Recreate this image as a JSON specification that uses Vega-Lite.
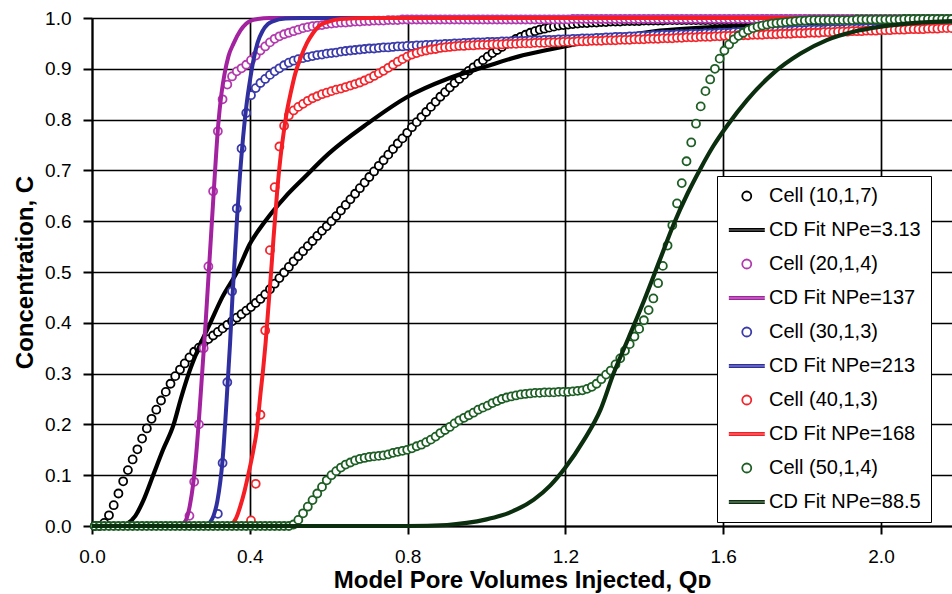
{
"$schema": "https://vega.github.io/schema/vega-lite/v6.json",
"width": 860, "height": 508,
"autosize": {"type": "none"},
"padding": {"left": 92, "top": 18, "right": 0, "bottom": 68},
"background": "white",
"config": {"view": {"stroke": null}, "font": "Liberation Sans"},
"datasets": {
"c10": [{"x":0.007,"y":0},{"x":0.019,"y":0},{"x":0.031,"y":0.006},{"x":0.043,"y":0.021},{"x":0.055,"y":0.041},{"x":0.067,"y":0.064},{"x":0.079,"y":0.088},{"x":0.091,"y":0.11},{"x":0.103,"y":0.131},{"x":0.115,"y":0.151},{"x":0.127,"y":0.172},{"x":0.139,"y":0.192},{"x":0.151,"y":0.211},{"x":0.163,"y":0.229},{"x":0.175,"y":0.247},{"x":0.187,"y":0.264},{"x":0.199,"y":0.28},{"x":0.211,"y":0.295},{"x":0.223,"y":0.308},{"x":0.235,"y":0.32},{"x":0.247,"y":0.332},{"x":0.259,"y":0.343},{"x":0.271,"y":0.351},{"x":0.283,"y":0.36},{"x":0.295,"y":0.368},{"x":0.307,"y":0.375},{"x":0.319,"y":0.382},{"x":0.331,"y":0.389},{"x":0.343,"y":0.396},{"x":0.355,"y":0.403},{"x":0.367,"y":0.41},{"x":0.379,"y":0.417},{"x":0.391,"y":0.424},{"x":0.403,"y":0.431},{"x":0.415,"y":0.439},{"x":0.427,"y":0.447},{"x":0.439,"y":0.456},{"x":0.451,"y":0.466},{"x":0.463,"y":0.477},{"x":0.475,"y":0.488},{"x":0.487,"y":0.499},{"x":0.499,"y":0.51},{"x":0.511,"y":0.521},{"x":0.523,"y":0.531},{"x":0.535,"y":0.541},{"x":0.547,"y":0.551},{"x":0.559,"y":0.561},{"x":0.571,"y":0.571},{"x":0.583,"y":0.581},{"x":0.595,"y":0.59},{"x":0.607,"y":0.6},{"x":0.619,"y":0.61},{"x":0.631,"y":0.621},{"x":0.643,"y":0.632},{"x":0.655,"y":0.643},{"x":0.667,"y":0.654},{"x":0.679,"y":0.665},{"x":0.691,"y":0.676},{"x":0.703,"y":0.687},{"x":0.715,"y":0.698},{"x":0.727,"y":0.709},{"x":0.739,"y":0.72},{"x":0.751,"y":0.731},{"x":0.763,"y":0.742},{"x":0.775,"y":0.753},{"x":0.787,"y":0.763},{"x":0.799,"y":0.774},{"x":0.811,"y":0.785},{"x":0.823,"y":0.795},{"x":0.835,"y":0.805},{"x":0.847,"y":0.815},{"x":0.859,"y":0.825},{"x":0.871,"y":0.835},{"x":0.883,"y":0.845},{"x":0.895,"y":0.854},{"x":0.907,"y":0.863},{"x":0.919,"y":0.872},{"x":0.931,"y":0.88},{"x":0.943,"y":0.888},{"x":0.955,"y":0.896},{"x":0.967,"y":0.903},{"x":0.979,"y":0.91},{"x":0.991,"y":0.917},{"x":1.003,"y":0.924},{"x":1.015,"y":0.931},{"x":1.027,"y":0.937},{"x":1.039,"y":0.943},{"x":1.051,"y":0.949},{"x":1.063,"y":0.954},{"x":1.075,"y":0.959},{"x":1.087,"y":0.963},{"x":1.099,"y":0.967},{"x":1.111,"y":0.971},{"x":1.123,"y":0.974},{"x":1.135,"y":0.977},{"x":1.147,"y":0.979},{"x":1.159,"y":0.981},{"x":1.171,"y":0.983},{"x":1.183,"y":0.985},{"x":1.195,"y":0.986},{"x":1.207,"y":0.987},{"x":1.219,"y":0.988},{"x":1.231,"y":0.989},{"x":1.243,"y":0.99},{"x":1.255,"y":0.99},{"x":1.267,"y":0.991},{"x":1.279,"y":0.991},{"x":1.291,"y":0.992},{"x":1.303,"y":0.992},{"x":1.315,"y":0.993},{"x":1.327,"y":0.993},{"x":1.339,"y":0.993},{"x":1.351,"y":0.994},{"x":1.363,"y":0.994},{"x":1.375,"y":0.994},{"x":1.387,"y":0.994},{"x":1.399,"y":0.995},{"x":1.411,"y":0.995},{"x":1.423,"y":0.995},{"x":1.435,"y":0.995},{"x":1.447,"y":0.995},{"x":1.459,"y":0.996},{"x":1.471,"y":0.996},{"x":1.483,"y":0.996},{"x":1.495,"y":0.996},{"x":1.507,"y":0.996},{"x":1.519,"y":0.996},{"x":1.531,"y":0.996},{"x":1.543,"y":0.996},{"x":1.555,"y":0.996},{"x":1.567,"y":0.996},{"x":1.579,"y":0.996},{"x":1.591,"y":0.996},{"x":1.603,"y":0.996},{"x":1.615,"y":0.996},{"x":1.627,"y":0.996},{"x":1.639,"y":0.996},{"x":1.651,"y":0.996},{"x":1.663,"y":0.996},{"x":1.675,"y":0.996},{"x":1.687,"y":0.996},{"x":1.699,"y":0.997},{"x":1.711,"y":0.997},{"x":1.723,"y":0.997},{"x":1.735,"y":0.997},{"x":1.747,"y":0.997},{"x":1.759,"y":0.997},{"x":1.771,"y":0.997},{"x":1.783,"y":0.997},{"x":1.795,"y":0.997},{"x":1.807,"y":0.997},{"x":1.819,"y":0.997},{"x":1.831,"y":0.997},{"x":1.843,"y":0.997},{"x":1.855,"y":0.997},{"x":1.867,"y":0.997},{"x":1.879,"y":0.997},{"x":1.891,"y":0.997},{"x":1.903,"y":0.997},{"x":1.915,"y":0.997},{"x":1.927,"y":0.997},{"x":1.939,"y":0.997},{"x":1.951,"y":0.997},{"x":1.963,"y":0.997},{"x":1.975,"y":0.997},{"x":1.987,"y":0.997},{"x":1.999,"y":0.997},{"x":2.011,"y":0.997},{"x":2.023,"y":0.997},{"x":2.035,"y":0.997},{"x":2.047,"y":0.997},{"x":2.059,"y":0.997},{"x":2.071,"y":0.997},{"x":2.083,"y":0.997},{"x":2.095,"y":0.997},{"x":2.107,"y":0.997},{"x":2.119,"y":0.997},{"x":2.131,"y":0.997},{"x":2.143,"y":0.997},{"x":2.155,"y":0.997},{"x":2.167,"y":0.997},{"x":2.179,"y":0.997}],
"f10": [{"x":0,"y":0},{"x":0.07,"y":0},{"x":0.09,"y":0.005},{"x":0.11,"y":0.02},{"x":0.13,"y":0.05},{"x":0.155,"y":0.1},{"x":0.18,"y":0.15},{"x":0.207,"y":0.2},{"x":0.225,"y":0.25},{"x":0.245,"y":0.3},{"x":0.27,"y":0.35},{"x":0.3,"y":0.4},{"x":0.33,"y":0.45},{"x":0.3676,"y":0.5},{"x":0.4,"y":0.555},{"x":0.439,"y":0.6},{"x":0.49,"y":0.648},{"x":0.537,"y":0.685},{"x":0.6,"y":0.733},{"x":0.7,"y":0.793},{"x":0.8,"y":0.845},{"x":0.9,"y":0.88},{"x":1.0,"y":0.905},{"x":1.08,"y":0.924},{"x":1.16,"y":0.938},{"x":1.25,"y":0.952},{"x":1.35,"y":0.965},{"x":1.44,"y":0.975},{"x":1.57,"y":0.982},{"x":1.7,"y":0.987},{"x":1.85,"y":0.991},{"x":2.0,"y":0.994},{"x":2.18,"y":0.996}],
"c20": [{"x":0.247,"y":0.02},{"x":0.259,"y":0.087},{"x":0.271,"y":0.2},{"x":0.283,"y":0.35},{"x":0.295,"y":0.511},{"x":0.307,"y":0.659},{"x":0.319,"y":0.777},{"x":0.331,"y":0.84},{"x":0.343,"y":0.869},{"x":0.355,"y":0.885},{"x":0.367,"y":0.895},{"x":0.379,"y":0.901},{"x":0.391,"y":0.908},{"x":0.403,"y":0.917},{"x":0.415,"y":0.926},{"x":0.427,"y":0.936},{"x":0.439,"y":0.944},{"x":0.451,"y":0.952},{"x":0.463,"y":0.959},{"x":0.475,"y":0.964},{"x":0.487,"y":0.968},{"x":0.499,"y":0.971},{"x":0.511,"y":0.974},{"x":0.523,"y":0.977},{"x":0.535,"y":0.98},{"x":0.547,"y":0.982},{"x":0.559,"y":0.984},{"x":0.571,"y":0.985},{"x":0.583,"y":0.986},{"x":0.595,"y":0.988},{"x":0.607,"y":0.989},{"x":0.619,"y":0.99},{"x":0.631,"y":0.991},{"x":0.643,"y":0.991},{"x":0.655,"y":0.992},{"x":0.667,"y":0.993},{"x":0.679,"y":0.993},{"x":0.691,"y":0.994},{"x":0.703,"y":0.994},{"x":0.715,"y":0.995},{"x":0.727,"y":0.995},{"x":0.739,"y":0.995},{"x":0.751,"y":0.996},{"x":0.763,"y":0.996},{"x":0.775,"y":0.996},{"x":0.787,"y":0.997},{"x":0.799,"y":0.997},{"x":0.811,"y":0.997},{"x":0.823,"y":0.997},{"x":0.835,"y":0.997},{"x":0.847,"y":0.997},{"x":0.859,"y":0.997},{"x":0.871,"y":0.997},{"x":0.883,"y":0.997},{"x":0.895,"y":0.997},{"x":0.907,"y":0.997},{"x":0.919,"y":0.997},{"x":0.931,"y":0.997},{"x":0.943,"y":0.997},{"x":0.955,"y":0.997},{"x":0.967,"y":0.997},{"x":0.979,"y":0.997},{"x":0.991,"y":0.997},{"x":1.003,"y":0.997},{"x":1.015,"y":0.997},{"x":1.027,"y":0.997},{"x":1.039,"y":0.997},{"x":1.051,"y":0.997},{"x":1.063,"y":0.997},{"x":1.075,"y":0.997},{"x":1.087,"y":0.997},{"x":1.099,"y":0.997},{"x":1.111,"y":0.997},{"x":1.123,"y":0.997},{"x":1.135,"y":0.997},{"x":1.147,"y":0.997},{"x":1.159,"y":0.997},{"x":1.171,"y":0.997},{"x":1.183,"y":0.997},{"x":1.195,"y":0.997},{"x":1.207,"y":0.997},{"x":1.219,"y":0.998},{"x":1.231,"y":0.998},{"x":1.243,"y":0.998},{"x":1.255,"y":0.998},{"x":1.267,"y":0.998},{"x":1.279,"y":0.998},{"x":1.291,"y":0.998},{"x":1.303,"y":0.998},{"x":1.315,"y":0.998},{"x":1.327,"y":0.998},{"x":1.339,"y":0.998},{"x":1.351,"y":0.998},{"x":1.363,"y":0.998},{"x":1.375,"y":0.998},{"x":1.387,"y":0.998},{"x":1.399,"y":0.998},{"x":1.411,"y":0.998},{"x":1.423,"y":0.998},{"x":1.435,"y":0.998},{"x":1.447,"y":0.998},{"x":1.459,"y":0.998},{"x":1.471,"y":0.998},{"x":1.483,"y":0.998},{"x":1.495,"y":0.998},{"x":1.507,"y":0.998},{"x":1.519,"y":0.998},{"x":1.531,"y":0.998},{"x":1.543,"y":0.998},{"x":1.555,"y":0.998},{"x":1.567,"y":0.998},{"x":1.579,"y":0.998},{"x":1.591,"y":0.998},{"x":1.603,"y":0.998},{"x":1.615,"y":0.998},{"x":1.627,"y":0.998},{"x":1.639,"y":0.998},{"x":1.651,"y":0.998},{"x":1.663,"y":0.998},{"x":1.675,"y":0.998},{"x":1.687,"y":0.998},{"x":1.699,"y":0.998},{"x":1.711,"y":0.998},{"x":1.723,"y":0.998},{"x":1.735,"y":0.998},{"x":1.747,"y":0.998},{"x":1.759,"y":0.998},{"x":1.771,"y":0.998},{"x":1.783,"y":0.998},{"x":1.795,"y":0.998},{"x":1.807,"y":0.998},{"x":1.819,"y":0.998},{"x":1.831,"y":0.998},{"x":1.843,"y":0.998},{"x":1.855,"y":0.998},{"x":1.867,"y":0.998},{"x":1.879,"y":0.998},{"x":1.891,"y":0.998},{"x":1.903,"y":0.998},{"x":1.915,"y":0.998},{"x":1.927,"y":0.998},{"x":1.939,"y":0.998},{"x":1.951,"y":0.998},{"x":1.963,"y":0.998},{"x":1.975,"y":0.998},{"x":1.987,"y":0.998},{"x":1.999,"y":0.998},{"x":2.011,"y":0.998},{"x":2.023,"y":0.998},{"x":2.035,"y":0.998},{"x":2.047,"y":0.998},{"x":2.059,"y":0.998},{"x":2.071,"y":0.998},{"x":2.083,"y":0.998},{"x":2.095,"y":0.998},{"x":2.107,"y":0.998},{"x":2.119,"y":0.998},{"x":2.131,"y":0.998},{"x":2.143,"y":0.998},{"x":2.155,"y":0.998},{"x":2.167,"y":0.998},{"x":2.179,"y":0.998}],
"f20": [{"x":0,"y":0},{"x":0.22,"y":0},{"x":0.232,"y":0.005},{"x":0.24,"y":0.015},{"x":0.248,"y":0.04},{"x":0.256,"y":0.08},{"x":0.264,"y":0.14},{"x":0.272,"y":0.22},{"x":0.28,"y":0.31},{"x":0.288,"y":0.4},{"x":0.296,"y":0.5},{"x":0.304,"y":0.6},{"x":0.312,"y":0.7},{"x":0.32,"y":0.79},{"x":0.328,"y":0.85},{"x":0.336,"y":0.89},{"x":0.346,"y":0.925},{"x":0.359,"y":0.95},{"x":0.376,"y":0.975},{"x":0.39,"y":0.988},{"x":0.401,"y":0.994},{"x":0.42,"y":0.998},{"x":0.45,"y":1},{"x":2.18,"y":1}],
"c30": [{"x":0.319,"y":0.024},{"x":0.331,"y":0.124},{"x":0.343,"y":0.283},{"x":0.355,"y":0.462},{"x":0.367,"y":0.625},{"x":0.379,"y":0.743},{"x":0.391,"y":0.813},{"x":0.403,"y":0.848},{"x":0.415,"y":0.862},{"x":0.427,"y":0.872},{"x":0.439,"y":0.88},{"x":0.451,"y":0.888},{"x":0.463,"y":0.895},{"x":0.475,"y":0.901},{"x":0.487,"y":0.907},{"x":0.499,"y":0.912},{"x":0.511,"y":0.916},{"x":0.523,"y":0.919},{"x":0.535,"y":0.921},{"x":0.547,"y":0.923},{"x":0.559,"y":0.925},{"x":0.571,"y":0.927},{"x":0.583,"y":0.928},{"x":0.595,"y":0.93},{"x":0.607,"y":0.931},{"x":0.619,"y":0.932},{"x":0.631,"y":0.934},{"x":0.643,"y":0.935},{"x":0.655,"y":0.936},{"x":0.667,"y":0.937},{"x":0.679,"y":0.938},{"x":0.691,"y":0.939},{"x":0.703,"y":0.94},{"x":0.715,"y":0.94},{"x":0.727,"y":0.941},{"x":0.739,"y":0.942},{"x":0.751,"y":0.942},{"x":0.763,"y":0.943},{"x":0.775,"y":0.944},{"x":0.787,"y":0.944},{"x":0.799,"y":0.945},{"x":0.811,"y":0.945},{"x":0.823,"y":0.946},{"x":0.835,"y":0.946},{"x":0.847,"y":0.947},{"x":0.859,"y":0.947},{"x":0.871,"y":0.948},{"x":0.883,"y":0.948},{"x":0.895,"y":0.949},{"x":0.907,"y":0.949},{"x":0.919,"y":0.95},{"x":0.931,"y":0.95},{"x":0.943,"y":0.951},{"x":0.955,"y":0.951},{"x":0.967,"y":0.952},{"x":0.979,"y":0.952},{"x":0.991,"y":0.952},{"x":1.003,"y":0.953},{"x":1.015,"y":0.953},{"x":1.027,"y":0.953},{"x":1.039,"y":0.954},{"x":1.051,"y":0.954},{"x":1.063,"y":0.954},{"x":1.075,"y":0.955},{"x":1.087,"y":0.955},{"x":1.099,"y":0.955},{"x":1.111,"y":0.956},{"x":1.123,"y":0.956},{"x":1.135,"y":0.956},{"x":1.147,"y":0.957},{"x":1.159,"y":0.957},{"x":1.171,"y":0.957},{"x":1.183,"y":0.958},{"x":1.195,"y":0.958},{"x":1.207,"y":0.958},{"x":1.219,"y":0.959},{"x":1.231,"y":0.959},{"x":1.243,"y":0.96},{"x":1.255,"y":0.96},{"x":1.267,"y":0.96},{"x":1.279,"y":0.961},{"x":1.291,"y":0.961},{"x":1.303,"y":0.962},{"x":1.315,"y":0.962},{"x":1.327,"y":0.963},{"x":1.339,"y":0.963},{"x":1.351,"y":0.963},{"x":1.363,"y":0.964},{"x":1.375,"y":0.964},{"x":1.387,"y":0.965},{"x":1.399,"y":0.965},{"x":1.411,"y":0.965},{"x":1.423,"y":0.966},{"x":1.435,"y":0.966},{"x":1.447,"y":0.967},{"x":1.459,"y":0.967},{"x":1.471,"y":0.967},{"x":1.483,"y":0.968},{"x":1.495,"y":0.968},{"x":1.507,"y":0.968},{"x":1.519,"y":0.969},{"x":1.531,"y":0.969},{"x":1.543,"y":0.969},{"x":1.555,"y":0.97},{"x":1.567,"y":0.97},{"x":1.579,"y":0.97},{"x":1.591,"y":0.971},{"x":1.603,"y":0.971},{"x":1.615,"y":0.971},{"x":1.627,"y":0.972},{"x":1.639,"y":0.972},{"x":1.651,"y":0.972},{"x":1.663,"y":0.973},{"x":1.675,"y":0.973},{"x":1.687,"y":0.973},{"x":1.699,"y":0.974},{"x":1.711,"y":0.974},{"x":1.723,"y":0.974},{"x":1.735,"y":0.975},{"x":1.747,"y":0.975},{"x":1.759,"y":0.975},{"x":1.771,"y":0.975},{"x":1.783,"y":0.976},{"x":1.795,"y":0.976},{"x":1.807,"y":0.976},{"x":1.819,"y":0.977},{"x":1.831,"y":0.977},{"x":1.843,"y":0.977},{"x":1.855,"y":0.977},{"x":1.867,"y":0.978},{"x":1.879,"y":0.978},{"x":1.891,"y":0.978},{"x":1.903,"y":0.978},{"x":1.915,"y":0.979},{"x":1.927,"y":0.979},{"x":1.939,"y":0.979},{"x":1.951,"y":0.979},{"x":1.963,"y":0.98},{"x":1.975,"y":0.98},{"x":1.987,"y":0.98},{"x":1.999,"y":0.98},{"x":2.011,"y":0.981},{"x":2.023,"y":0.981},{"x":2.035,"y":0.981},{"x":2.047,"y":0.981},{"x":2.059,"y":0.981},{"x":2.071,"y":0.982},{"x":2.083,"y":0.982},{"x":2.095,"y":0.982},{"x":2.107,"y":0.982},{"x":2.119,"y":0.983},{"x":2.131,"y":0.983},{"x":2.143,"y":0.983},{"x":2.155,"y":0.983},{"x":2.167,"y":0.983},{"x":2.179,"y":0.984}],
"f30": [{"x":0,"y":0},{"x":0.28,"y":0},{"x":0.29,"y":0.002},{"x":0.3,"y":0.008},{"x":0.308,"y":0.02},{"x":0.318,"y":0.05},{"x":0.331,"y":0.13},{"x":0.344,"y":0.283},{"x":0.35,"y":0.36},{"x":0.356,"y":0.45},{"x":0.362,"y":0.53},{"x":0.368,"y":0.61},{"x":0.375,"y":0.69},{"x":0.383,"y":0.765},{"x":0.391,"y":0.825},{"x":0.401,"y":0.88},{"x":0.41,"y":0.92},{"x":0.42,"y":0.952},{"x":0.432,"y":0.974},{"x":0.446,"y":0.988},{"x":0.46,"y":0.994},{"x":0.49,"y":0.999},{"x":0.53,"y":1},{"x":2.18,"y":1}],
"c40": [{"x":0.403,"y":0.011},{"x":0.415,"y":0.083},{"x":0.427,"y":0.219},{"x":0.439,"y":0.385},{"x":0.451,"y":0.543},{"x":0.463,"y":0.667},{"x":0.475,"y":0.747},{"x":0.487,"y":0.788},{"x":0.499,"y":0.808},{"x":0.511,"y":0.818},{"x":0.523,"y":0.825},{"x":0.535,"y":0.831},{"x":0.547,"y":0.837},{"x":0.559,"y":0.842},{"x":0.571,"y":0.846},{"x":0.583,"y":0.85},{"x":0.595,"y":0.853},{"x":0.607,"y":0.856},{"x":0.619,"y":0.859},{"x":0.631,"y":0.861},{"x":0.643,"y":0.864},{"x":0.655,"y":0.867},{"x":0.667,"y":0.87},{"x":0.679,"y":0.873},{"x":0.691,"y":0.877},{"x":0.703,"y":0.881},{"x":0.715,"y":0.886},{"x":0.727,"y":0.891},{"x":0.739,"y":0.896},{"x":0.751,"y":0.902},{"x":0.763,"y":0.908},{"x":0.775,"y":0.914},{"x":0.787,"y":0.919},{"x":0.799,"y":0.924},{"x":0.811,"y":0.928},{"x":0.823,"y":0.931},{"x":0.835,"y":0.934},{"x":0.847,"y":0.936},{"x":0.859,"y":0.938},{"x":0.871,"y":0.939},{"x":0.883,"y":0.941},{"x":0.895,"y":0.942},{"x":0.907,"y":0.943},{"x":0.919,"y":0.944},{"x":0.931,"y":0.945},{"x":0.943,"y":0.945},{"x":0.955,"y":0.946},{"x":0.967,"y":0.946},{"x":0.979,"y":0.947},{"x":0.991,"y":0.947},{"x":1.003,"y":0.947},{"x":1.015,"y":0.948},{"x":1.027,"y":0.948},{"x":1.039,"y":0.948},{"x":1.051,"y":0.949},{"x":1.063,"y":0.949},{"x":1.075,"y":0.949},{"x":1.087,"y":0.95},{"x":1.099,"y":0.95},{"x":1.111,"y":0.95},{"x":1.123,"y":0.951},{"x":1.135,"y":0.951},{"x":1.147,"y":0.951},{"x":1.159,"y":0.952},{"x":1.171,"y":0.952},{"x":1.183,"y":0.952},{"x":1.195,"y":0.953},{"x":1.207,"y":0.953},{"x":1.219,"y":0.953},{"x":1.231,"y":0.954},{"x":1.243,"y":0.954},{"x":1.255,"y":0.954},{"x":1.267,"y":0.955},{"x":1.279,"y":0.955},{"x":1.291,"y":0.955},{"x":1.303,"y":0.956},{"x":1.315,"y":0.956},{"x":1.327,"y":0.956},{"x":1.339,"y":0.957},{"x":1.351,"y":0.957},{"x":1.363,"y":0.957},{"x":1.375,"y":0.958},{"x":1.387,"y":0.958},{"x":1.399,"y":0.958},{"x":1.411,"y":0.959},{"x":1.423,"y":0.959},{"x":1.435,"y":0.959},{"x":1.447,"y":0.96},{"x":1.459,"y":0.96},{"x":1.471,"y":0.96},{"x":1.483,"y":0.961},{"x":1.495,"y":0.961},{"x":1.507,"y":0.962},{"x":1.519,"y":0.962},{"x":1.531,"y":0.962},{"x":1.543,"y":0.963},{"x":1.555,"y":0.963},{"x":1.567,"y":0.963},{"x":1.579,"y":0.964},{"x":1.591,"y":0.964},{"x":1.603,"y":0.965},{"x":1.615,"y":0.965},{"x":1.627,"y":0.965},{"x":1.639,"y":0.966},{"x":1.651,"y":0.966},{"x":1.663,"y":0.966},{"x":1.675,"y":0.967},{"x":1.687,"y":0.967},{"x":1.699,"y":0.967},{"x":1.711,"y":0.968},{"x":1.723,"y":0.968},{"x":1.735,"y":0.968},{"x":1.747,"y":0.969},{"x":1.759,"y":0.969},{"x":1.771,"y":0.969},{"x":1.783,"y":0.97},{"x":1.795,"y":0.97},{"x":1.807,"y":0.97},{"x":1.819,"y":0.971},{"x":1.831,"y":0.971},{"x":1.843,"y":0.971},{"x":1.855,"y":0.972},{"x":1.867,"y":0.972},{"x":1.879,"y":0.972},{"x":1.891,"y":0.973},{"x":1.903,"y":0.973},{"x":1.915,"y":0.973},{"x":1.927,"y":0.974},{"x":1.939,"y":0.974},{"x":1.951,"y":0.974},{"x":1.963,"y":0.975},{"x":1.975,"y":0.975},{"x":1.987,"y":0.975},{"x":1.999,"y":0.976},{"x":2.011,"y":0.976},{"x":2.023,"y":0.976},{"x":2.035,"y":0.977},{"x":2.047,"y":0.977},{"x":2.059,"y":0.977},{"x":2.071,"y":0.978},{"x":2.083,"y":0.978},{"x":2.095,"y":0.978},{"x":2.107,"y":0.978},{"x":2.119,"y":0.979},{"x":2.131,"y":0.979},{"x":2.143,"y":0.979},{"x":2.155,"y":0.98},{"x":2.167,"y":0.98},{"x":2.179,"y":0.98}],
"f40": [{"x":0,"y":0},{"x":0.34,"y":0},{"x":0.351,"y":0.002},{"x":0.365,"y":0.015},{"x":0.376,"y":0.039},{"x":0.387,"y":0.07},{"x":0.397,"y":0.104},{"x":0.408,"y":0.145},{"x":0.418,"y":0.19},{"x":0.427,"y":0.26},{"x":0.434,"y":0.31},{"x":0.44,"y":0.36},{"x":0.447,"y":0.43},{"x":0.454,"y":0.5},{"x":0.46,"y":0.565},{"x":0.469,"y":0.655},{"x":0.477,"y":0.72},{"x":0.486,"y":0.775},{"x":0.495,"y":0.82},{"x":0.503,"y":0.85},{"x":0.515,"y":0.89},{"x":0.528,"y":0.92},{"x":0.545,"y":0.951},{"x":0.56,"y":0.97},{"x":0.575,"y":0.984},{"x":0.6,"y":0.993},{"x":0.63,"y":0.998},{"x":0.7,"y":1},{"x":2.18,"y":1}],
"c50": [{"x":0.007,"y":0},{"x":0.019,"y":0},{"x":0.031,"y":0},{"x":0.043,"y":0},{"x":0.055,"y":0},{"x":0.067,"y":0},{"x":0.079,"y":0},{"x":0.091,"y":0},{"x":0.103,"y":0},{"x":0.115,"y":0},{"x":0.127,"y":0},{"x":0.139,"y":0},{"x":0.151,"y":0},{"x":0.163,"y":0},{"x":0.175,"y":0},{"x":0.187,"y":0},{"x":0.199,"y":0},{"x":0.211,"y":0},{"x":0.223,"y":0},{"x":0.235,"y":0},{"x":0.247,"y":0},{"x":0.259,"y":0},{"x":0.271,"y":0},{"x":0.283,"y":0},{"x":0.295,"y":0},{"x":0.307,"y":0},{"x":0.319,"y":0},{"x":0.331,"y":0},{"x":0.343,"y":0},{"x":0.355,"y":0},{"x":0.367,"y":0},{"x":0.379,"y":0},{"x":0.391,"y":0},{"x":0.403,"y":0},{"x":0.415,"y":0},{"x":0.427,"y":0},{"x":0.439,"y":0},{"x":0.451,"y":0},{"x":0.463,"y":0},{"x":0.475,"y":0},{"x":0.487,"y":0},{"x":0.499,"y":0},{"x":0.511,"y":0.003},{"x":0.523,"y":0.012},{"x":0.535,"y":0.025},{"x":0.547,"y":0.038},{"x":0.559,"y":0.051},{"x":0.571,"y":0.064},{"x":0.583,"y":0.077},{"x":0.595,"y":0.09},{"x":0.607,"y":0.1},{"x":0.619,"y":0.108},{"x":0.631,"y":0.115},{"x":0.643,"y":0.121},{"x":0.655,"y":0.125},{"x":0.667,"y":0.129},{"x":0.679,"y":0.132},{"x":0.691,"y":0.134},{"x":0.703,"y":0.136},{"x":0.715,"y":0.137},{"x":0.727,"y":0.138},{"x":0.739,"y":0.139},{"x":0.751,"y":0.141},{"x":0.763,"y":0.144},{"x":0.775,"y":0.146},{"x":0.787,"y":0.148},{"x":0.799,"y":0.15},{"x":0.811,"y":0.153},{"x":0.823,"y":0.157},{"x":0.835,"y":0.16},{"x":0.847,"y":0.165},{"x":0.859,"y":0.17},{"x":0.871,"y":0.176},{"x":0.883,"y":0.183},{"x":0.895,"y":0.189},{"x":0.907,"y":0.195},{"x":0.919,"y":0.202},{"x":0.931,"y":0.208},{"x":0.943,"y":0.213},{"x":0.955,"y":0.218},{"x":0.967,"y":0.223},{"x":0.979,"y":0.229},{"x":0.991,"y":0.233},{"x":1.003,"y":0.237},{"x":1.015,"y":0.242},{"x":1.027,"y":0.246},{"x":1.039,"y":0.25},{"x":1.051,"y":0.253},{"x":1.063,"y":0.255},{"x":1.075,"y":0.257},{"x":1.087,"y":0.259},{"x":1.099,"y":0.26},{"x":1.111,"y":0.261},{"x":1.123,"y":0.262},{"x":1.135,"y":0.262},{"x":1.147,"y":0.263},{"x":1.159,"y":0.263},{"x":1.171,"y":0.263},{"x":1.183,"y":0.264},{"x":1.195,"y":0.264},{"x":1.207,"y":0.264},{"x":1.219,"y":0.265},{"x":1.231,"y":0.266},{"x":1.243,"y":0.267},{"x":1.255,"y":0.27},{"x":1.267,"y":0.274},{"x":1.279,"y":0.28},{"x":1.291,"y":0.289},{"x":1.303,"y":0.298},{"x":1.315,"y":0.306},{"x":1.327,"y":0.318},{"x":1.339,"y":0.33},{"x":1.351,"y":0.345},{"x":1.363,"y":0.358},{"x":1.375,"y":0.373},{"x":1.387,"y":0.388},{"x":1.399,"y":0.405},{"x":1.411,"y":0.425},{"x":1.423,"y":0.448},{"x":1.435,"y":0.478},{"x":1.447,"y":0.512},{"x":1.459,"y":0.552},{"x":1.471,"y":0.592},{"x":1.483,"y":0.635},{"x":1.495,"y":0.675},{"x":1.507,"y":0.718},{"x":1.519,"y":0.755},{"x":1.531,"y":0.792},{"x":1.543,"y":0.826},{"x":1.555,"y":0.856},{"x":1.567,"y":0.879},{"x":1.579,"y":0.9},{"x":1.591,"y":0.92},{"x":1.603,"y":0.936},{"x":1.615,"y":0.948},{"x":1.627,"y":0.958},{"x":1.639,"y":0.965},{"x":1.651,"y":0.971},{"x":1.663,"y":0.976},{"x":1.675,"y":0.98},{"x":1.687,"y":0.983},{"x":1.699,"y":0.985},{"x":1.711,"y":0.987},{"x":1.723,"y":0.989},{"x":1.735,"y":0.99},{"x":1.747,"y":0.991},{"x":1.759,"y":0.992},{"x":1.771,"y":0.993},{"x":1.783,"y":0.994},{"x":1.795,"y":0.995},{"x":1.807,"y":0.995},{"x":1.819,"y":0.996},{"x":1.831,"y":0.996},{"x":1.843,"y":0.996},{"x":1.855,"y":0.996},{"x":1.867,"y":0.996},{"x":1.879,"y":0.996},{"x":1.891,"y":0.996},{"x":1.903,"y":0.996},{"x":1.915,"y":0.996},{"x":1.927,"y":0.996},{"x":1.939,"y":0.997},{"x":1.951,"y":0.997},{"x":1.963,"y":0.997},{"x":1.975,"y":0.997},{"x":1.987,"y":0.997},{"x":1.999,"y":0.997},{"x":2.011,"y":0.997},{"x":2.023,"y":0.997},{"x":2.035,"y":0.997},{"x":2.047,"y":0.997},{"x":2.059,"y":0.998},{"x":2.071,"y":0.998},{"x":2.083,"y":0.998},{"x":2.095,"y":0.998},{"x":2.107,"y":0.998},{"x":2.119,"y":0.998},{"x":2.131,"y":0.998},{"x":2.143,"y":0.998},{"x":2.155,"y":0.998},{"x":2.167,"y":0.998},{"x":2.179,"y":0.998}],
"f50": [{"x":0,"y":0},{"x":0.8,"y":0},{"x":0.9,"y":0.002},{"x":0.95,"y":0.006},{"x":1.0,"y":0.013},{"x":1.035,"y":0.02},{"x":1.078,"y":0.033},{"x":1.12,"y":0.052},{"x":1.162,"y":0.08},{"x":1.2,"y":0.115},{"x":1.246,"y":0.168},{"x":1.289,"y":0.229},{"x":1.322,"y":0.3},{"x":1.36,"y":0.37},{"x":1.4,"y":0.445},{"x":1.44,"y":0.525},{"x":1.475,"y":0.595},{"x":1.51,"y":0.655},{"x":1.542,"y":0.703},{"x":1.575,"y":0.748},{"x":1.61,"y":0.788},{"x":1.661,"y":0.839},{"x":1.728,"y":0.892},{"x":1.796,"y":0.93},{"x":1.864,"y":0.957},{"x":1.93,"y":0.973},{"x":2.0,"y":0.983},{"x":2.08,"y":0.99},{"x":2.18,"y":0.994}]
},
"encoding": {
  "x": {"field": "x", "type": "quantitative",
    "scale": {"domain": [0, 2.18], "nice": false, "zero": false},
    "title": "Model Pore Volumes Injected, Qᴅ",
    "axis": {"values": [0, 0.4, 0.8, 1.2, 1.6, 2.0], "format": ".1f", "grid": true, "gridColor": "#000", "gridWidth": 1.7, "gridOpacity": 1,
      "domainColor": "#000", "domainWidth": 2, "tickColor": "#000", "tickWidth": 2, "tickSize": 8, "labelFlush": false,
      "labelFont": "Liberation Sans", "labelFontSize": 19, "labelColor": "#000", "labelPadding": 13,
      "titleFont": "Liberation Sans", "titleFontSize": 24, "titleFontWeight": "bold", "titleColor": "#000", "titlePadding": 2}},
  "y": {"field": "y", "type": "quantitative",
    "scale": {"domain": [0, 1], "nice": false},
    "title": "Concentration, C",
    "axis": {"values": [0, 0.1, 0.2, 0.3, 0.4, 0.5, 0.6, 0.7, 0.8, 0.9, 1.0], "format": ".1f", "grid": true, "gridColor": "#000", "gridWidth": 1.7, "gridOpacity": 1,
      "domainColor": "#000", "domainWidth": 2, "tickColor": "#000", "tickWidth": 2, "tickSize": 9, "labelFlush": false,
      "labelFont": "Liberation Sans", "labelFontSize": 19, "labelColor": "#000", "labelPadding": 12,
      "titleFont": "Liberation Sans", "titleFontSize": 24, "titleFontWeight": "bold", "titleColor": "#000", "titlePadding": 7}}
},
"layer": [
  {"data": {"name": "c10"}, "mark": {"type": "point", "shape": "circle", "size": 64, "strokeWidth": 1.8, "filled": false, "fill": "white", "opacity": 1},
   "encoding": {"color": {"datum": "Cell (10,1,7)", "type": "nominal"}}},
  {"data": {"name": "f10"}, "mark": {"type": "line", "strokeWidth": 4.2, "interpolate": "monotone"},
   "encoding": {"color": {"datum": "CD Fit NPe=3.13", "type": "nominal"}}},
  {"data": {"name": "c20"}, "mark": {"type": "point", "shape": "circle", "size": 64, "strokeWidth": 1.8, "filled": false, "fill": "white", "opacity": 1},
   "encoding": {"color": {"datum": "Cell (20,1,4)", "type": "nominal"}}},
  {"data": {"name": "f20"}, "mark": {"type": "line", "strokeWidth": 4, "interpolate": "monotone"},
   "encoding": {"color": {"datum": "CD Fit NPe=137", "type": "nominal"}}},
  {"data": {"name": "c30"}, "mark": {"type": "point", "shape": "circle", "size": 64, "strokeWidth": 1.8, "filled": false, "fill": "white", "opacity": 1},
   "encoding": {"color": {"datum": "Cell (30,1,3)", "type": "nominal"}}},
  {"data": {"name": "f30"}, "mark": {"type": "line", "strokeWidth": 4, "interpolate": "monotone"},
   "encoding": {"color": {"datum": "CD Fit NPe=213", "type": "nominal"}}},
  {"data": {"name": "c40"}, "mark": {"type": "point", "shape": "circle", "size": 64, "strokeWidth": 1.8, "filled": false, "fill": "white", "opacity": 1},
   "encoding": {"color": {"datum": "Cell (40,1,3)", "type": "nominal"}}},
  {"data": {"name": "f40"}, "mark": {"type": "line", "strokeWidth": 4, "interpolate": "monotone"},
   "encoding": {"color": {"datum": "CD Fit NPe=168", "type": "nominal"}}},
  {"data": {"name": "c50"}, "mark": {"type": "point", "shape": "circle", "size": 64, "strokeWidth": 1.8, "filled": false, "fill": "white", "opacity": 1},
   "encoding": {"color": {"datum": "Cell (50,1,4)", "type": "nominal"}}},
  {"data": {"name": "f50"}, "mark": {"type": "line", "strokeWidth": 4.2, "interpolate": "monotone"},
   "encoding": {"color": {"datum": "CD Fit NPe=88.5", "type": "nominal"}}},
  {"data": {"values": []}, "mark": {"type": "point", "filled": false, "opacity": 1, "strokeWidth": 1.8},
   "encoding": {
     "color": {"datum": "Cell (10,1,7)", "type": "nominal",
       "scale": {"domain": ["Cell (10,1,7)", "CD Fit NPe=3.13", "Cell (20,1,4)", "CD Fit NPe=137", "Cell (30,1,3)", "CD Fit NPe=213", "Cell (40,1,3)", "CD Fit NPe=168", "Cell (50,1,4)", "CD Fit NPe=88.5"],
                 "range": ["#000000", "#000000", "#B23AAE", "#A3229F", "#3A3AAA", "#2F2FA0", "#F2262C", "#F41E24", "#1D5E24", "#0B2E0E"]},
       "legend": {"title": null, "orient": "none", "legendX": 625, "legendY": 158, "padding": 10, "symbolSize": 289, "symbolStrokeWidth": 1.8,
         "labelFont": "Liberation Sans", "labelFontSize": 20, "labelColor": "#000", "labelOffset": 22, "labelLimit": 400, "rowPadding": 14,
         "strokeColor": "#000", "fillColor": "#fff",
         "encode": {"symbols": {"update": {"fill": {"value": "white"}, "strokeWidth": {"value": 1.8}, "opacity": {"value": 1}}}, "legend": {"update": {"strokeWidth": {"value": 1.5}}}}}},
     "shape": {"datum": "Cell (10,1,7)", "type": "nominal",
       "scale": {"domain": ["Cell (10,1,7)", "CD Fit NPe=3.13", "Cell (20,1,4)", "CD Fit NPe=137", "Cell (30,1,3)", "CD Fit NPe=213", "Cell (40,1,3)", "CD Fit NPe=168", "Cell (50,1,4)", "CD Fit NPe=88.5"],
                 "range": ["M0.62,0A0.53,0.53,0,1,1,1.68,0A0.53,0.53,0,1,1,0.62,0Z", "M-0.96,-0.14H3.27M-0.96,0.14H3.27", "M0.62,0A0.53,0.53,0,1,1,1.68,0A0.53,0.53,0,1,1,0.62,0Z", "M-0.96,-0.14H3.27M-0.96,0.14H3.27", "M0.62,0A0.53,0.53,0,1,1,1.68,0A0.53,0.53,0,1,1,0.62,0Z", "M-0.96,-0.14H3.27M-0.96,0.14H3.27", "M0.62,0A0.53,0.53,0,1,1,1.68,0A0.53,0.53,0,1,1,0.62,0Z", "M-0.96,-0.14H3.27M-0.96,0.14H3.27", "M0.62,0A0.53,0.53,0,1,1,1.68,0A0.53,0.53,0,1,1,0.62,0Z", "M-0.96,-0.14H3.27M-0.96,0.14H3.27"]},
       "legend": {"title": null, "orient": "none", "legendX": 625, "legendY": 158, "padding": 10, "symbolSize": 289, "symbolStrokeWidth": 1.8,
         "labelFont": "Liberation Sans", "labelFontSize": 20, "labelColor": "#000", "labelOffset": 22, "labelLimit": 400, "rowPadding": 14,
         "strokeColor": "#000", "fillColor": "#fff"}}
   }}
]
}
